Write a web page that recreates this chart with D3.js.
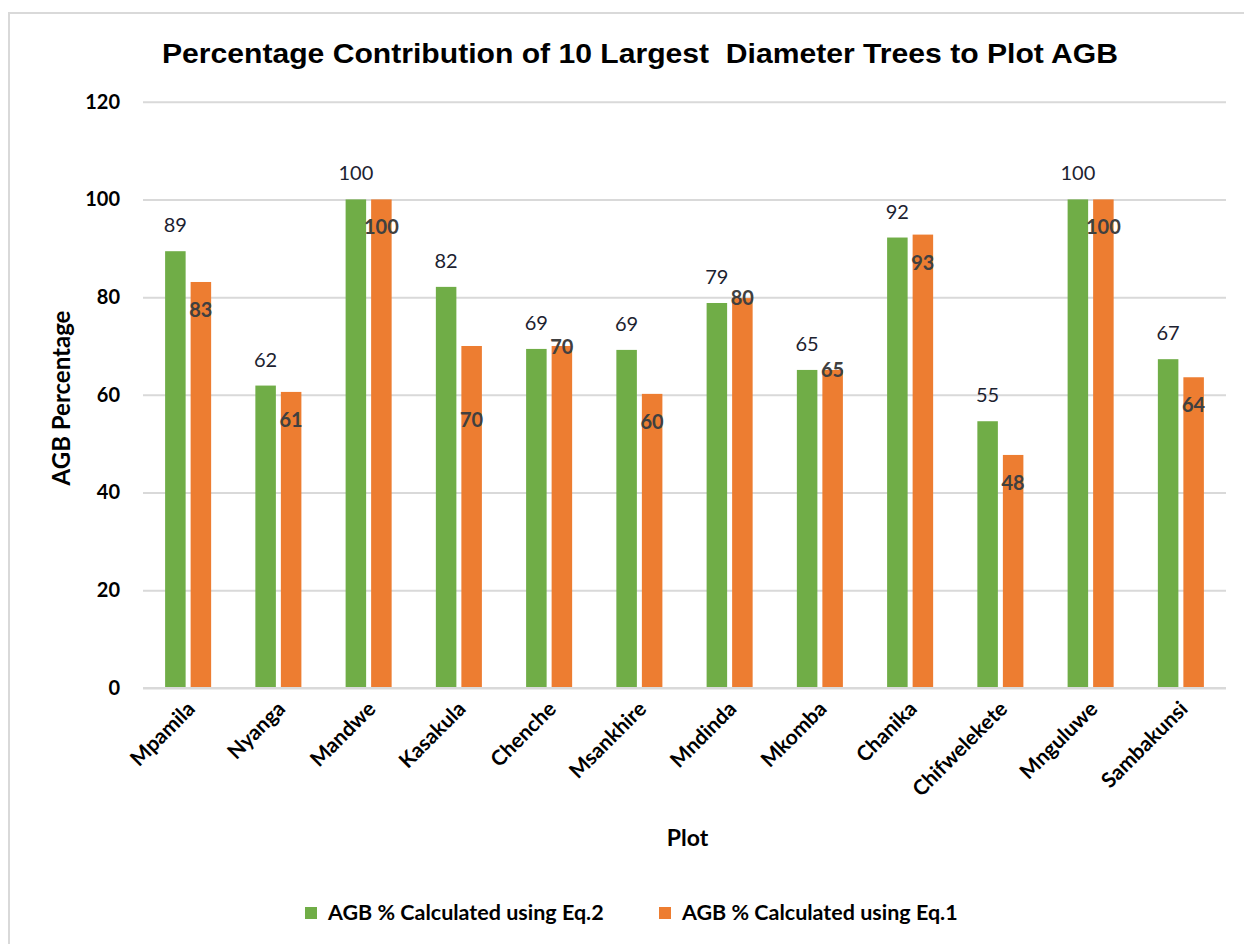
<!DOCTYPE html>
<html>
<head>
<meta charset="utf-8">
<script src="https://cdn.jsdelivr.net/npm/d3@7"></script>
<style>
  html, body { margin: 0; padding: 0; background: #fff; }
  svg { display: block; }
</style>
</head>
<body>
<svg id="chart" width="1244" height="944"></svg>
<script>
// Plots sampled
const plots = ["Mpamila", "Nyanga", "Mandwe", "Kasakula", "Chenche", "Msankhire",
               "Mndinda", "Mkomba", "Chanika", "Chifwelekete", "Mnguluwe", "Sambakunsi"];

// Share of plot AGB held by the 10 largest-diameter trees (%)
const eq2Values = [89.4, 61.9, 100, 82.1, 69.4, 69.2, 78.8, 65.1, 92.2, 54.6, 100, 67.3];
const eq1Values = [83.1, 60.6, 100, 70.0, 70.0, 60.2, 79.8, 65.1, 92.8, 47.7, 100, 63.6];

const seriesNames = ["AGB % Calculated using Eq.2", "AGB % Calculated using Eq.1"];
const yTicks = [0, 20, 40, 60, 80, 100, 120];

const chartTitle = "Percentage Contribution of 10 Largest  Diameter Trees to Plot AGB";

// Eq.1 value labels sit inside the bar top; a few were nudged by hand
const eq1LabelDrop = { Kasakula: 74, Chenche: 1, Mndinda: 0, Mkomba: 0 };

const GREEN = "#70AD47", ORANGE = "#ED7D31";
const LABEL_FONT = "Lato, 'Open Sans', sans-serif";

const svg = d3.select("#chart");

// outer chart frame (left and top edges)
svg.append("path")
  .attr("d", "M9,944 V13 H1244")
  .attr("fill", "none")
  .attr("stroke", "#d9d9d9")
  .attr("stroke-width", 2);

const plotLeft = 143, plotRight = 1226, plotTop = 101.7, plotBottom = 688;

const y = d3.scaleLinear().domain([0, 120]).range([plotBottom, plotTop]);
const x0 = d3.scaleBand().domain(plots).range([plotLeft, plotRight])
  .paddingInner(0.49).paddingOuter(0.245);
const x1 = d3.scaleBand().domain([0, 1]).range([0, x0.bandwidth()]).paddingInner(0.196);

// gridlines + tick labels
const yAxis = d3.axisLeft(y).tickValues(yTicks).tickSize(-(plotRight - plotLeft)).tickPadding(23);
const gy = svg.append("g").attr("transform", `translate(${plotLeft},0)`).call(yAxis);
gy.select(".domain").remove();
gy.selectAll(".tick line").attr("stroke", "#d9d9d9").attr("stroke-width", 2);
gy.selectAll(".tick text")
  .attr("font-family", LABEL_FONT).attr("font-weight", "bold")
  .attr("font-size", 20).attr("fill", "#000");

// bars
const groups = svg.append("g").selectAll("g").data(plots).join("g")
  .attr("transform", d => `translate(${x0(d)},0)`);

groups.append("rect")
  .attr("x", x1(0)).attr("width", x1.bandwidth())
  .attr("y", (d, i) => y(eq2Values[i]))
  .attr("height", (d, i) => y(0) - y(eq2Values[i]))
  .attr("fill", GREEN);

groups.append("rect")
  .attr("x", x1(1)).attr("width", x1.bandwidth())
  .attr("y", (d, i) => y(eq1Values[i]))
  .attr("height", (d, i) => y(0) - y(eq1Values[i]))
  .attr("fill", ORANGE);

const fmt = d3.format(".0f");

// Eq.2 labels above the bars
groups.append("text")
  .attr("x", x1(0) + x1.bandwidth() / 2)
  .attr("y", (d, i) => y(eq2Values[i]) - 19)
  .attr("text-anchor", "middle")
  .attr("font-family", LABEL_FONT).attr("font-size", 20)
  .attr("fill", "#1c2230")
  .text((d, i) => fmt(eq2Values[i]));

// Eq.1 labels inside the bar tops
groups.append("text")
  .attr("x", x1(1) + x1.bandwidth() / 2)
  .attr("y", (d, i) => y(eq1Values[i]) + (d in eq1LabelDrop ? eq1LabelDrop[d] : 28) + 7)
  .attr("text-anchor", "middle")
  .attr("font-family", LABEL_FONT).attr("font-weight", "bold").attr("font-size", 20)
  .attr("fill", "#404040")
  .text((d, i) => fmt(eq1Values[i]));

// x axis baseline and rotated category labels
svg.append("line")
  .attr("x1", plotLeft).attr("x2", plotRight)
  .attr("y1", plotBottom).attr("y2", plotBottom)
  .attr("stroke", "#d9d9d9").attr("stroke-width", 2);

svg.append("g").selectAll("text").data(plots).join("text")
  .attr("transform", d => `translate(${x0(d) + x0.bandwidth() / 2 + 3},${plotBottom + 17}) rotate(-45)`)
  .attr("text-anchor", "end")
  .attr("dy", "0.35em")
  .attr("font-family", LABEL_FONT).attr("font-weight", "bold").attr("font-size", 21)
  .attr("fill", "#000")
  .text(d => d);

// axis titles
svg.append("text")
  .attr("x", (plotLeft + plotRight) / 2 + 3).attr("y", 846)
  .attr("text-anchor", "middle")
  .attr("font-family", LABEL_FONT).attr("font-weight", "bold").attr("font-size", 23)
  .text("Plot");

svg.append("text")
  .attr("transform", `translate(70,398) rotate(-90)`)
  .attr("text-anchor", "middle")
  .attr("font-family", LABEL_FONT).attr("font-weight", "bold").attr("font-size", 24)
  .text("AGB Percentage");

// title
svg.append("text")
  .attr("x", 640).attr("y", 63)
  .attr("text-anchor", "middle")
  .attr("font-family", "'Liberation Sans', Arial, sans-serif")
  .attr("font-weight", "bold").attr("font-size", 27)
  .style("white-space", "pre")
  .attr("textLength", 956).attr("lengthAdjust", "spacingAndGlyphs")
  .text(chartTitle);

// legend
const legendItems = [
  { name: seriesNames[0], color: GREEN, x: 305 },
  { name: seriesNames[1], color: ORANGE, x: 659 }
];
const lg = svg.append("g").selectAll("g").data(legendItems).join("g")
  .attr("transform", d => `translate(${d.x},907)`);
lg.append("rect").attr("width", 12).attr("height", 12).attr("fill", d => d.color);
lg.append("text")
  .attr("x", 23).attr("y", 13)
  .attr("font-family", LABEL_FONT).attr("font-weight", "bold").attr("font-size", 21.5)
  .attr("fill", "#000")
  .text(d => d.name);
</script>
</body>
</html>
